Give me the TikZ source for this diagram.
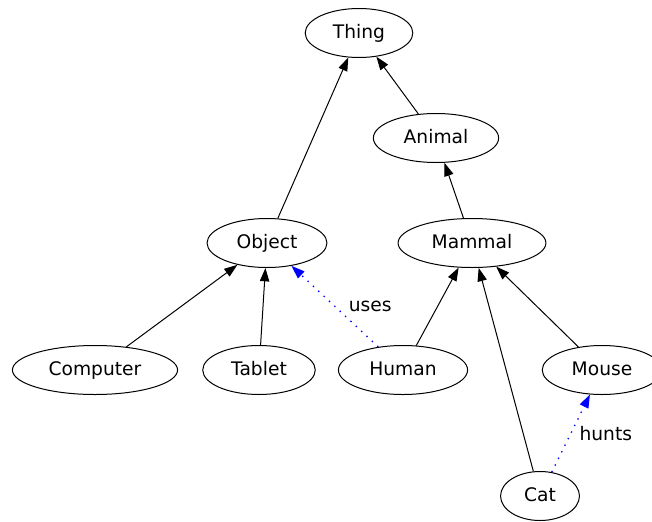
\documentclass[tikz,border=0pt]{standalone}
\usepackage{fontspec}
\setmainfont{DejaVu Sans}
\usepackage{tikz}
\usetikzlibrary{shapes.geometric,arrows.meta}
\tikzstyle{cls}      = [ellipse, draw=black, line width=0.75pt, inner xsep=9pt, minimum height=36.75pt, text height=10.5pt, text depth=3pt, font=\fontsize{14pt}{16pt}\selectfont]
\tikzstyle{subclass} = [line width=0.75pt, -{Triangle[length=10pt,width=7pt]}]
\tikzstyle{relation} = [line width=1pt, blue, dash pattern=on 1pt off 4.5pt, -{Triangle[length=10pt,width=7pt]}]
\tikzstyle{lbl}      = [font=\fontsize{14pt}{16pt}\selectfont, text=black, inner sep=0pt]

\begin{document}
\begin{tikzpicture}[x=0.75pt, y=-0.75pt]
        \useasboundingbox (0,0) rectangle (652,521);
        \clip (0,0) rectangle (652,521);

        \node (thing) [cls] at (359,33) {Thing};
        \node (animal) [cls] at (436,138) {Animal};
        \node (object) [cls] at (267,243) {Object};
        \node (mammal) [cls] at (472,243) {Mammal};
        \node (computer) [cls] at (95,370) {Computer};
        \node (tablet) [cls] at (259,370) {Tablet};
        \node (human) [cls] at (403,370) {Human};
        \node (mouse) [cls] at (602,370) {Mouse};
        \node (cat) [cls] at (540,496) {Cat};

        \draw [subclass] (object) -- (thing);
        \draw [subclass] (animal) -- (thing);
        \draw [subclass] (mammal) -- (animal);
        \draw [subclass] (computer) -- (object);
        \draw [subclass] (tablet) -- (object);
        \draw [subclass] (human) -- (mammal);
        \draw [subclass] (cat) -- (mammal);
        \draw [subclass] (mouse) -- (mammal);
        \draw [relation] (human) -- node [lbl, anchor=west, xshift=10pt] {uses} (object);
        \draw [relation] (cat) -- node [lbl, anchor=west, xshift=6pt] {hunts} (mouse);
    \end{tikzpicture}
\end{document}
